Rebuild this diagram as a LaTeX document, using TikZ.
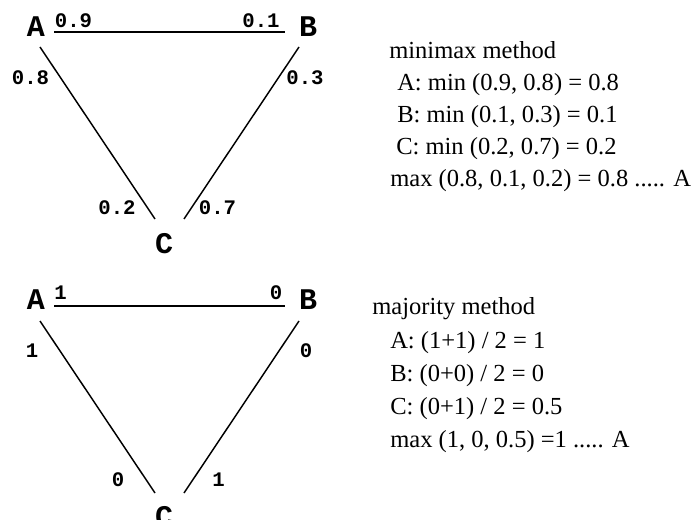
\documentclass[tikz,border=0pt]{standalone}
\usepackage{fontspec}
\setmainfont{Liberation Serif}
\setmonofont{Liberation Mono}
\usepackage{tikz}
\usetikzlibrary{calc}
\tikzset{
	vertex/.style={font=\fontsize{22.5}{27}\selectfont\ttfamily\bfseries, inner sep=0pt}
}
\tikzset{
	weight/.style={font=\fontsize{15.5}{18}\selectfont\ttfamily\bfseries, inner sep=0pt}
}
\tikzset{
	calctext/.style={font=\fontsize{18.4}{22}\selectfont, anchor=base west, inner sep=0pt}
}
\tikzset{
	link/.style={line width=1.1pt}
}

\begin{document}
\begin{tikzpicture}[x=0.75pt, y=-0.75pt]
      \clip (0,0) rectangle (696,520);
      % minimax triangle
      \node[vertex] (mA) at (36,27) {A};
      \node[vertex] (mB) at (308,27) {B};
      \node[vertex] (mC) at (164,244) {C};
      \draw[link] ($(mA)+(18,5)$) -- ($(mB)+(-23,5)$);
      \draw[link] ($(mA)+(4,20)$) -- ($(mC)+(-9,-25)$);
      \draw[link] ($(mB)+(-9,20)$) -- ($(mC)+(20,-25)$);
      \node[weight] (mAB) at (73.5,20.5) {0.9};
      \node[weight] (mBA) at (261,20.5) {0.1};
      \node[weight] (mAC) at (30.5,77.5) {0.8};
      \node[weight] (mBC) at (305,77.5) {0.3};
      \node[weight] (mCA) at (117,207.5) {0.2};
      \node[weight] (mCB) at (217.5,207.5) {0.7};
      % minimax calculation
      \node[calctext] (mhead) at (389,59) {minimax method};
      \node[calctext] (mlA) at (397,91) {A: min (0.9, 0.8) = 0.8};
      \node[calctext] (mlB) at (397,123) {B: min (0.1, 0.3) = 0.1};
      \node[calctext] (mlC) at (396,155) {C: min (0.2, 0.7) = 0.2};
      \node[calctext] (mmax) at (390,187) {max (0.8, 0.1, 0.2) = 0.8 ..... A};
      % majority triangle
      \node[vertex] (jA) at (36,300) {A};
      \node[vertex] (jB) at (308,300) {B};
      \node[vertex] (jC) at (164,517) {C};
      \draw[link] ($(jA)+(18,6)$) -- ($(jB)+(-23,6)$);
      \draw[link] ($(jA)+(4,21)$) -- ($(jC)+(-9,-24)$);
      \draw[link] ($(jB)+(-9,21)$) -- ($(jC)+(20,-24)$);
      \node[weight] (jAB) at (60.5,292.5) {1};
      \node[weight] (jBA) at (276,292.5) {0};
      \node[weight] (jAC) at (32,351) {1};
      \node[weight] (jBC) at (306,351) {0};
      \node[weight] (jCA) at (118,479.5) {0};
      \node[weight] (jCB) at (218.5,479.5) {1};
      % majority calculation
      \node[calctext] (jhead) at (372,315) {majority method};
      \node[calctext] (jlA) at (390,348) {A: (1+1) / 2 = 1};
      \node[calctext] (jlB) at (390,381) {B: (0+0) / 2 = 0};
      \node[calctext] (jlC) at (390,414) {C: (0+1) / 2 = 0.5};
      \node[calctext] (jmax) at (390,447) {max (1, 0, 0.5) =1 ..... A};
\end{tikzpicture}
\end{document}
